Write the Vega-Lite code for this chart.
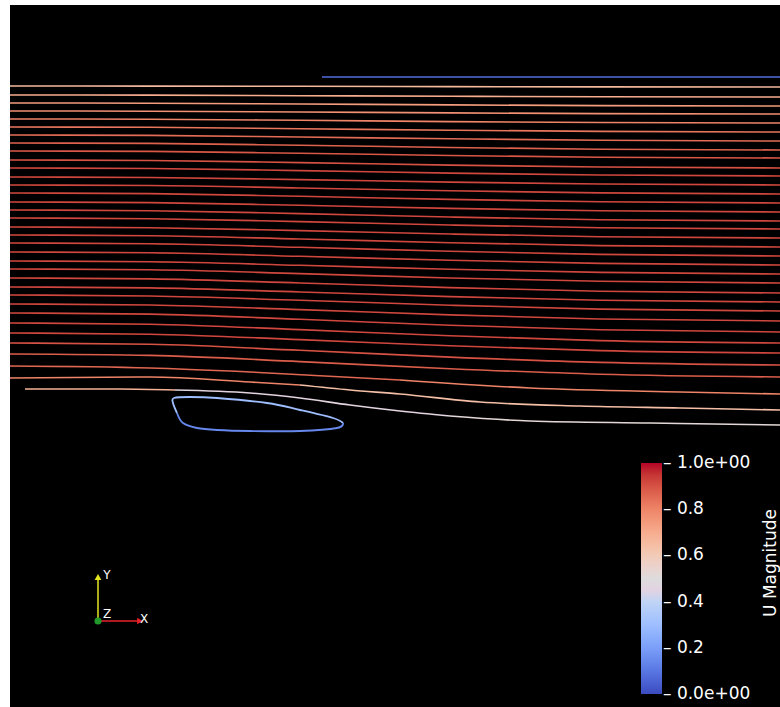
{
  "$schema": "https://vega.github.io/schema/vega-lite/v6.json",
  "width": 770,
  "height": 702,
  "autosize": {"type": "none"},
  "padding": {"left": 10, "top": 5, "right": 0, "bottom": 0},
  "background": "#ffffff",
  "config": {"view": {"fill": "#000000", "stroke": null}, "font": "DejaVu Sans"},
  "datasets": {
    "streams": [
      {"s":"1","x":0,"y":621,"u":0.66},{"s":"1","x":140,"y":620.9,"u":0.66},{"s":"1","x":290,"y":620.7,"u":0.66},{"s":"1","x":440,"y":620.4,"u":0.66},{"s":"1","x":590,"y":620.1,"u":0.66},{"s":"1","x":770,"y":620,"u":0.66},
      {"s":"2","x":0,"y":612,"u":0.7},{"s":"2","x":140,"y":611.9,"u":0.7},{"s":"2","x":290,"y":611.3,"u":0.7},{"s":"2","x":440,"y":610.7,"u":0.7},{"s":"2","x":590,"y":610.2,"u":0.7},{"s":"2","x":770,"y":610,"u":0.7},
      {"s":"3","x":0,"y":604,"u":0.74},{"s":"3","x":140,"y":603.8,"u":0.74},{"s":"3","x":290,"y":603,"u":0.74},{"s":"3","x":440,"y":602.1,"u":0.74},{"s":"3","x":590,"y":601.4,"u":0.74},{"s":"3","x":770,"y":601,"u":0.74},
      {"s":"4","x":0,"y":596,"u":0.77},{"s":"4","x":140,"y":595.8,"u":0.77},{"s":"4","x":290,"y":595,"u":0.77},{"s":"4","x":440,"y":594.1,"u":0.77},{"s":"4","x":590,"y":593.4,"u":0.77},{"s":"4","x":770,"y":593,"u":0.77},
      {"s":"5","x":0,"y":588,"u":0.8},{"s":"5","x":140,"y":587.8,"u":0.8},{"s":"5","x":290,"y":586.7,"u":0.8},{"s":"5","x":440,"y":585.4,"u":0.8},{"s":"5","x":590,"y":584.5,"u":0.8},{"s":"5","x":770,"y":584,"u":0.8},
      {"s":"6","x":0,"y":580,"u":0.83},{"s":"6","x":140,"y":579.7,"u":0.83},{"s":"6","x":290,"y":578.3,"u":0.83},{"s":"6","x":440,"y":576.8,"u":0.83},{"s":"6","x":590,"y":575.6,"u":0.83},{"s":"6","x":770,"y":575,"u":0.83},
      {"s":"7","x":0,"y":572,"u":0.85},{"s":"7","x":140,"y":571.6,"u":0.85},{"s":"7","x":290,"y":570,"u":0.85},{"s":"7","x":440,"y":568.2,"u":0.85},{"s":"7","x":590,"y":566.7,"u":0.85},{"s":"7","x":770,"y":566,"u":0.85},
      {"s":"8","x":0,"y":564,"u":0.87},{"s":"8","x":140,"y":563.6,"u":0.87},{"s":"8","x":290,"y":561.7,"u":0.87},{"s":"8","x":440,"y":559.5,"u":0.87},{"s":"8","x":590,"y":557.8,"u":0.87},{"s":"8","x":770,"y":557,"u":0.87},
      {"s":"9","x":0,"y":556,"u":0.89},{"s":"9","x":140,"y":555.6,"u":0.89},{"s":"9","x":290,"y":553.7,"u":0.89},{"s":"9","x":440,"y":551.5,"u":0.89},{"s":"9","x":590,"y":549.8,"u":0.89},{"s":"9","x":770,"y":549,"u":0.89},
      {"s":"10","x":0,"y":547,"u":0.9},{"s":"10","x":140,"y":546.5,"u":0.9},{"s":"10","x":290,"y":544.4,"u":0.9},{"s":"10","x":440,"y":541.9,"u":0.9},{"s":"10","x":590,"y":540,"u":0.9},{"s":"10","x":770,"y":539,"u":0.9},
      {"s":"11","x":0,"y":539,"u":0.92},{"s":"11","x":140,"y":538.5,"u":0.92},{"s":"11","x":290,"y":536.4,"u":0.92},{"s":"11","x":440,"y":533.9,"u":0.92},{"s":"11","x":590,"y":532,"u":0.92},{"s":"11","x":770,"y":531,"u":0.92},
      {"s":"12","x":0,"y":530,"u":0.92},{"s":"12","x":140,"y":529.5,"u":0.92},{"s":"12","x":290,"y":527.4,"u":0.92},{"s":"12","x":440,"y":524.9,"u":0.92},{"s":"12","x":590,"y":523,"u":0.92},{"s":"12","x":770,"y":522,"u":0.92},
      {"s":"13","x":0,"y":522,"u":0.92},{"s":"13","x":140,"y":521.5,"u":0.92},{"s":"13","x":290,"y":519,"u":0.92},{"s":"13","x":440,"y":516.2,"u":0.92},{"s":"13","x":590,"y":514.1,"u":0.92},{"s":"13","x":770,"y":513,"u":0.92},
      {"s":"14","x":0,"y":514,"u":0.92},{"s":"14","x":140,"y":513.4,"u":0.92},{"s":"14","x":290,"y":510.7,"u":0.92},{"s":"14","x":440,"y":507.6,"u":0.92},{"s":"14","x":590,"y":505.2,"u":0.92},{"s":"14","x":770,"y":504,"u":0.92},
      {"s":"15","x":0,"y":505,"u":0.92},{"s":"15","x":140,"y":504.4,"u":0.92},{"s":"15","x":290,"y":501.7,"u":0.92},{"s":"15","x":440,"y":498.6,"u":0.92},{"s":"15","x":590,"y":496.2,"u":0.92},{"s":"15","x":770,"y":495,"u":0.92},
      {"s":"16","x":0,"y":497,"u":0.92},{"s":"16","x":140,"y":496.3,"u":0.92},{"s":"16","x":290,"y":493.4,"u":0.92},{"s":"16","x":440,"y":490,"u":0.92},{"s":"16","x":590,"y":487.3,"u":0.92},{"s":"16","x":770,"y":486,"u":0.92},
      {"s":"17","x":0,"y":489,"u":0.92},{"s":"17","x":140,"y":488.3,"u":0.92},{"s":"17","x":290,"y":485.4,"u":0.92},{"s":"17","x":440,"y":482,"u":0.92},{"s":"17","x":590,"y":479.3,"u":0.92},{"s":"17","x":770,"y":478,"u":0.92},
      {"s":"18","x":0,"y":480,"u":0.92},{"s":"18","x":140,"y":479.3,"u":0.92},{"s":"18","x":290,"y":476.4,"u":0.92},{"s":"18","x":440,"y":473,"u":0.92},{"s":"18","x":590,"y":470.3,"u":0.92},{"s":"18","x":770,"y":469,"u":0.92},
      {"s":"19","x":0,"y":472,"u":0.92},{"s":"19","x":140,"y":471.3,"u":0.92},{"s":"19","x":290,"y":468,"u":0.92},{"s":"19","x":440,"y":464.3,"u":0.92},{"s":"19","x":590,"y":461.4,"u":0.92},{"s":"19","x":770,"y":460,"u":0.92},
      {"s":"20","x":0,"y":464,"u":0.92},{"s":"20","x":140,"y":463.2,"u":0.92},{"s":"20","x":290,"y":459.7,"u":0.92},{"s":"20","x":440,"y":455.7,"u":0.92},{"s":"20","x":590,"y":452.6,"u":0.92},{"s":"20","x":770,"y":451,"u":0.92},
      {"s":"21","x":0,"y":455,"u":0.92},{"s":"21","x":140,"y":454.2,"u":0.92},{"s":"21","x":290,"y":450.7,"u":0.92},{"s":"21","x":440,"y":446.7,"u":0.92},{"s":"21","x":590,"y":443.6,"u":0.92},{"s":"21","x":770,"y":442,"u":0.92},
      {"s":"22","x":0,"y":446,"u":0.92},{"s":"22","x":140,"y":445.2,"u":0.92},{"s":"22","x":290,"y":441.7,"u":0.92},{"s":"22","x":440,"y":437.7,"u":0.92},{"s":"22","x":590,"y":434.6,"u":0.92},{"s":"22","x":770,"y":433,"u":0.92},
      {"s":"23","x":0,"y":438,"u":0.92},{"s":"23","x":140,"y":437.2,"u":0.92},{"s":"23","x":290,"y":433.4,"u":0.92},{"s":"23","x":440,"y":429,"u":0.92},{"s":"23","x":590,"y":425.7,"u":0.92},{"s":"23","x":770,"y":424,"u":0.92},
      {"s":"24","x":0,"y":429,"u":0.92},{"s":"24","x":140,"y":428.1,"u":0.92},{"s":"24","x":290,"y":424,"u":0.92},{"s":"24","x":440,"y":419.4,"u":0.92},{"s":"24","x":590,"y":415.8,"u":0.92},{"s":"24","x":770,"y":414,"u":0.92},
      {"s":"25","x":0,"y":420,"u":0.92},{"s":"25","x":140,"y":419.1,"u":0.92},{"s":"25","x":290,"y":415,"u":0.92},{"s":"25","x":440,"y":410.4,"u":0.92},{"s":"25","x":590,"y":406.8,"u":0.92},{"s":"25","x":770,"y":405,"u":0.92},
      {"s":"26","x":0,"y":412,"u":0.92},{"s":"26","x":140,"y":411,"u":0.92},{"s":"26","x":290,"y":406.7,"u":0.92},{"s":"26","x":440,"y":401.8,"u":0.92},{"s":"26","x":590,"y":397.9,"u":0.92},{"s":"26","x":770,"y":396,"u":0.92},
      {"s":"27","x":0,"y":403,"u":0.92},{"s":"27","x":140,"y":402,"u":0.92},{"s":"27","x":290,"y":397.4,"u":0.92},{"s":"27","x":440,"y":392.1,"u":0.92},{"s":"27","x":590,"y":388,"u":0.92},{"s":"27","x":770,"y":386,"u":0.92},
      {"s":"28","x":0,"y":394,"u":0.92},{"s":"28","x":140,"y":392.9,"u":0.92},{"s":"28","x":290,"y":387.7,"u":0.92},{"s":"28","x":440,"y":381.8,"u":0.92},{"s":"28","x":590,"y":377.3,"u":0.92},{"s":"28","x":770,"y":375,"u":0.92},
      {"s":"29","x":0,"y":384,"u":0.92},{"s":"29","x":140,"y":382.8,"u":0.92},{"s":"29","x":290,"y":377.4,"u":0.92},{"s":"29","x":440,"y":371.2,"u":0.92},{"s":"29","x":590,"y":366.4,"u":0.92},{"s":"29","x":770,"y":364,"u":0.92},
      {"s":"30","x":0,"y":374,"u":0.92},{"s":"30","x":140,"y":372.8,"u":0.92},{"s":"30","x":290,"y":367.4,"u":0.92},{"s":"30","x":440,"y":361.2,"u":0.92},{"s":"30","x":590,"y":356.4,"u":0.92},{"s":"30","x":770,"y":354,"u":0.92},
      {"s":"31","x":0,"y":364,"u":0.9},{"s":"31","x":140,"y":362.7,"u":0.9},{"s":"31","x":290,"y":356.7,"u":0.9},{"s":"31","x":440,"y":349.9,"u":0.9},{"s":"31","x":590,"y":344.6,"u":0.9},{"s":"31","x":770,"y":342,"u":0.9},
      {"s":"32","x":0,"y":353,"u":0.88},{"s":"32","x":140,"y":351.6,"u":0.88},{"s":"32","x":290,"y":345.4,"u":0.88},{"s":"32","x":440,"y":338.3,"u":0.88},{"s":"32","x":590,"y":332.8,"u":0.88},{"s":"32","x":770,"y":330,"u":0.88},
      {"s":"33a","x":0,"y":341,"u":0.86},{"s":"33a","x":140,"y":339,"u":0.86},{"s":"33a","x":240,"y":335,"u":0.86},{"s":"33a","x":390,"y":327,"u":0.86},
      {"s":"33b","x":390,"y":327,"u":0.8},{"s":"33b","x":520,"y":319,"u":0.8},{"s":"33b","x":670,"y":315,"u":0.8},{"s":"33b","x":770,"y":313,"u":0.8},
      {"s":"34a","x":0,"y":329,"u":0.8},{"s":"34a","x":140,"y":330,"u":0.8},{"s":"34a","x":240,"y":325,"u":0.8},{"s":"34a","x":290,"y":322,"u":0.8},
      {"s":"34b","x":290,"y":322,"u":0.64},{"s":"34b","x":340,"y":317,"u":0.64},{"s":"34b","x":390,"y":313,"u":0.64},{"s":"34b","x":470,"y":305,"u":0.64},{"s":"34b","x":570,"y":301,"u":0.64},{"s":"34b","x":670,"y":299,"u":0.64},{"s":"34b","x":770,"y":297,"u":0.64},
      {"s":"35a","x":15,"y":318,"u":0.68},{"s":"35a","x":110,"y":318,"u":0.68},{"s":"35a","x":165,"y":317,"u":0.68},
      {"s":"35b","x":165,"y":317,"u":0.46},{"s":"35b","x":240,"y":314,"u":0.46},{"s":"35b","x":290,"y":309,"u":0.46},{"s":"35b","x":340,"y":302,"u":0.46},{"s":"35b","x":390,"y":296,"u":0.46},{"s":"35b","x":440,"y":291,"u":0.46},
      {"s":"35c","x":440,"y":291,"u":0.52},{"s":"35c","x":520,"y":286,"u":0.52},{"s":"35c","x":640,"y":284,"u":0.52},{"s":"35c","x":770,"y":282,"u":0.52},
      {"s":"top","x":312,"y":630,"u":0.08},{"s":"top","x":770,"y":630,"u":0.08}
    ],
    "loop": [
      {"s":"t","k":0,"x":167,"y":294,"u":0.3},{"s":"t","k":1,"x":163,"y":304,"u":0.3},{"s":"t","k":2,"x":164,"y":309,"u":0.3},{"s":"t","k":3,"x":180,"y":310,"u":0.3},{"s":"t","k":4,"x":207,"y":309,"u":0.3},{"s":"t","k":5,"x":257,"y":304,"u":0.3},{"s":"t","k":6,"x":290,"y":297,"u":0.3},{"s":"t","k":7,"x":323,"y":289,"u":0.3},{"s":"t","k":8,"x":333,"y":284,"u":0.3},
      {"s":"b","k":0,"x":333,"y":284,"u":0.14},{"s":"b","k":1,"x":327,"y":279,"u":0.14},{"s":"b","k":2,"x":290,"y":276,"u":0.14},{"s":"b","k":3,"x":240,"y":276,"u":0.14},{"s":"b","k":4,"x":207,"y":277,"u":0.14},{"s":"b","k":5,"x":187,"y":279,"u":0.14},{"s":"b","k":6,"x":173,"y":284,"u":0.14},{"s":"b","k":7,"x":167,"y":294,"u":0.14}
    ],
    "triad": [
      {"axis":"X","x":88,"y":86,"x2":128,"y2":86},
      {"axis":"Y","x":88,"y":86,"x2":88,"y2":127}
    ],
    "cones": [
      {"axis":"X","x":130,"y":86},
      {"axis":"Y","x":88,"y":130}
    ],
    "origin": [{"x":88,"y":86}],
    "triadLabels": [
      {"t":"X","x":134,"y":88},
      {"t":"Y","x":97,"y":132},
      {"t":"Z","x":97,"y":93}
    ],
    "barTitle": [{"t":"U Magnitude","x":761,"y":144}]
  },
  "layer": [
    {
      "data": {"name": "streams"},
      "mark": {"type": "line", "strokeWidth": 1.6, "interpolate": "monotone"},
      "encoding": {
        "x": {"field": "x", "type": "quantitative", "scale": {"domain": [0, 770], "nice": false, "zero": false}, "axis": null},
        "y": {"field": "y", "type": "quantitative", "scale": {"domain": [0, 702], "nice": false, "zero": false}, "axis": null},
        "detail": {"field": "s", "type": "nominal"},
        "color": {
          "field": "u", "type": "quantitative",
          "scale": {"domain": [0, 0.1, 0.2, 0.3, 0.4, 0.5, 0.6, 0.7, 0.8, 0.9, 1], "range": ["#3b4cc0", "#5977e3", "#7b9ff9", "#9ebeff", "#c0d4f5", "#dddcdc", "#f2cbb7", "#f7ac8e", "#ee8468", "#d65244", "#b40426"]},
          "legend": {
            "orient": "none", "legendX": 631, "legendY": 458, "direction": "vertical",
            "gradientLength": 231, "gradientThickness": 21, "gradientStrokeWidth": 0,
            "values": [0.002, 0.2, 0.4, 0.6, 0.8, 0.998],
            "labelExpr": "datum.value > 0.99 ? '– 1.0e+00' : datum.value < 0.01 ? '– 0.0e+00' : '– ' + format(datum.value, '.1f')",
            "labelColor": "#ffffff", "labelFontSize": 17, "labelOffset": 1, "labelBaseline": "middle", "labelOverlap": false,
            "title": null,
            "padding": 0
          }
        }
      }
    },
    {
      "data": {"name": "loop"},
      "mark": {"type": "line", "strokeWidth": 1.8, "interpolate": "cardinal"},
      "encoding": {
        "x": {"field": "x", "type": "quantitative"},
        "y": {"field": "y", "type": "quantitative"},
        "detail": {"field": "s", "type": "nominal"},
        "order": {"field": "k", "type": "quantitative"},
        "color": {"field": "u", "type": "quantitative"}
      }
    },
    {
      "data": {"name": "triad"},
      "transform": [{"filter": "datum.axis == 'X'"}],
      "mark": {"type": "rule", "color": "#e8202a", "strokeWidth": 1.5},
      "encoding": {
        "x": {"field": "x", "type": "quantitative"}, "y": {"field": "y", "type": "quantitative"},
        "x2": {"field": "x2"}, "y2": {"field": "y2"}
      }
    },
    {
      "data": {"name": "triad"},
      "transform": [{"filter": "datum.axis == 'Y'"}],
      "mark": {"type": "rule", "color": "#e6e620", "strokeWidth": 1.5},
      "encoding": {
        "x": {"field": "x", "type": "quantitative"}, "y": {"field": "y", "type": "quantitative"},
        "x2": {"field": "x2"}, "y2": {"field": "y2"}
      }
    },
    {
      "data": {"name": "cones"},
      "transform": [{"filter": "datum.axis == 'X'"}],
      "mark": {"type": "point", "shape": "triangle-right", "filled": true, "color": "#e8202a", "size": 45, "opacity": 1},
      "encoding": {"x": {"field": "x", "type": "quantitative"}, "y": {"field": "y", "type": "quantitative"}}
    },
    {
      "data": {"name": "cones"},
      "transform": [{"filter": "datum.axis == 'Y'"}],
      "mark": {"type": "point", "shape": "triangle-up", "filled": true, "color": "#e6e620", "size": 45, "opacity": 1},
      "encoding": {"x": {"field": "x", "type": "quantitative"}, "y": {"field": "y", "type": "quantitative"}}
    },
    {
      "data": {"name": "origin"},
      "mark": {"type": "point", "shape": "circle", "filled": true, "color": "#1f9a2a", "size": 50, "opacity": 1},
      "encoding": {"x": {"field": "x", "type": "quantitative"}, "y": {"field": "y", "type": "quantitative"}}
    },
    {
      "data": {"name": "triadLabels"},
      "mark": {"type": "text", "color": "#ffffff", "fontSize": 12, "align": "center", "baseline": "middle"},
      "encoding": {"x": {"field": "x", "type": "quantitative"}, "y": {"field": "y", "type": "quantitative"}, "text": {"field": "t"}}
    },
    {
      "data": {"name": "barTitle"},
      "mark": {"type": "text", "color": "#ffffff", "fontSize": 17, "angle": 270, "align": "center", "baseline": "middle"},
      "encoding": {"x": {"field": "x", "type": "quantitative"}, "y": {"field": "y", "type": "quantitative"}, "text": {"field": "t"}}
    }
  ]
}
